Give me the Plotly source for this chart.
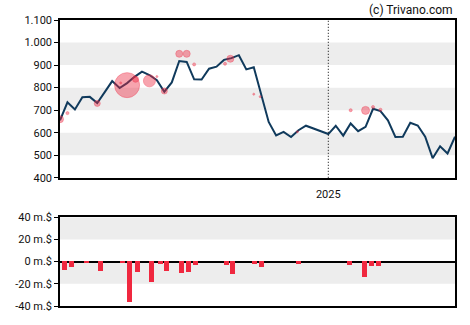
import pandas as pd
import plotly.graph_objects as go

# ---- data ----
start_date = "2024-04-24"
price = [655, 735, 703, 757, 759, 732, 780, 829, 798, 820, 848, 871, 856, 833, 782,
         823, 918, 914, 837, 836, 884, 893, 923, 931, 944, 881, 890, 765, 648, 588,
         604, 581, 611, 631, 619, 606, 594, 631, 587, 641, 607, 626, 706, 696, 655,
         581, 582, 644, 632, 582, 487, 540, 508, 582]
dates = pd.date_range(start_date, periods=len(price), freq="7D")

bubble_dates = ["2024-04-24", "2024-05-01", "2024-05-29", "2024-06-26", "2024-06-20",
                "2024-07-04", "2024-07-17", "2024-07-24", "2024-07-31", "2024-08-14",
                "2024-08-21", "2024-08-28", "2024-09-26", "2024-10-01", "2024-10-23",
                "2024-10-29", "2024-12-03", "2025-01-22", "2025-02-05", "2025-02-12",
                "2025-02-19"]
bubble_price = [660, 687, 730, 811, 821, 837, 830, 849, 785, 950, 950, 903, 906, 928,
                771, 760, 604, 700, 699, 714, 702]
bubble_size = [7, 3, 6, 25, 2, 6, 12, 2, 6, 7, 7, 3, 3, 7, 2, 2, 2, 3, 8, 3, 3]

flow_dates = ["2024-04-28", "2024-05-05", "2024-05-19", "2024-06-01", "2024-06-22",
              "2024-06-28", "2024-07-06", "2024-07-19", "2024-07-27", "2024-08-02",
              "2024-08-16", "2024-08-23", "2024-08-29", "2024-09-27", "2024-10-03",
              "2024-10-24", "2024-10-30", "2024-12-04", "2025-01-21", "2025-02-04",
              "2025-02-11", "2025-02-17"]
flow_values = [-8, -4.7, -1.5, -8.7, -1.5, -36.4, -9.5, -18.4, -2.4, -8.7, -10.4, -9.5,
               -3.3, -3.3, -11.3, -2.4, -5, -2.3, -3.3, -14.2, -4.4, -4.4]

price_ticks = [400, 500, 600, 700, 800, 900, 1000, 1100]
price_tick_text = ["400", "500", "600", "700", "800", "900", "1.000", "1.100"]
flow_ticks = [-40, -20, 0, 20, 40]
flow_tick_text = ["-40 m.$", "-20 m.$", "0 m.$", "20 m.$", "40 m.$"]
year_tick = "2025-01-01"

# ---- figure ----
fig = go.Figure()
fig.add_trace(go.Scatter(x=dates, y=price, mode="lines",
                         line=dict(color="#103a5c", width=2), xaxis="x", yaxis="y",
                         showlegend=False))
fig.add_trace(go.Scatter(x=pd.to_datetime(bubble_dates), y=bubble_price, mode="markers",
                         marker=dict(size=bubble_size, color="rgba(238,40,65,0.6)",
                                     line=dict(width=0.8, color="rgba(238,40,65,0.7)")),
                         xaxis="x", yaxis="y", showlegend=False))
fig.add_trace(go.Bar(x=pd.to_datetime(flow_dates), y=flow_values,
                     marker=dict(color="#f0283f", line=dict(width=0)),
                     width=4.7 * 86400000, xaxis="x2", yaxis="y2", showlegend=False))

xr = [dates[0], dates[-1]]
axis_font = dict(family="Roboto, Arial, sans-serif", size=11, color="#111")

fig.update_layout(
    width=470, height=325,
    margin=dict(l=60, r=15, t=20, b=15),
    paper_bgcolor="white", plot_bgcolor="white",
    font=axis_font,
    bargap=0,
    xaxis=dict(domain=[0, 1], range=xr, type="date", tickvals=[year_tick],
               ticktext=["2025"], ticks="", ticklabelstandoff=5, showgrid=False,
               zeroline=False, showline=True, mirror=True, linecolor="black",
               linewidth=1.5, tickfont=axis_font, anchor="y"),
    yaxis=dict(domain=[1 - 160 / 290, 1], range=[400, 1100], tickvals=price_ticks,
               ticktext=price_tick_text, ticks="outside", ticklen=4, tickcolor="black",
               showgrid=False, zeroline=False, showline=True, mirror=True,
               linecolor="black", linewidth=1.5, tickfont=axis_font, anchor="x"),
    xaxis2=dict(domain=[0, 1], range=xr, type="date", showticklabels=False, ticks="",
                showgrid=False, zeroline=False, showline=True, mirror=True,
                linecolor="black", linewidth=1.5, anchor="y2"),
    yaxis2=dict(domain=[0, 90 / 290], range=[-40, 40], tickvals=flow_ticks,
                ticktext=flow_tick_text, ticks="outside", ticklen=4, tickcolor="black",
                showgrid=False, zeroline=True, zerolinecolor="black", zerolinewidth=1.5,
                showline=True, mirror=True, linecolor="black", linewidth=1.5,
                tickfont=axis_font, anchor="x2"),
)

shapes = []
for lo in (500, 700, 900):
    shapes.append(dict(type="rect", xref="x domain", yref="y", x0=0, x1=1, y0=lo,
                       y1=lo + 100, fillcolor="#ededed", line=dict(width=0),
                       layer="below"))
for lo in (-20, 20):
    shapes.append(dict(type="rect", xref="x2 domain", yref="y2", x0=0, x1=1, y0=lo,
                       y1=lo + 20, fillcolor="#ededed", line=dict(width=0),
                       layer="below"))
shapes.append(dict(type="line", xref="x", yref="y domain", x0=year_tick, x1=year_tick,
                   y0=0, y1=1, line=dict(color="black", width=1, dash="1px,2px")))
fig.update_layout(shapes=shapes)

fig.add_annotation(text="(c) Trivano.com", xref="paper", yref="paper", x=1, y=1,
                   xanchor="right", yanchor="bottom", yshift=1, showarrow=False,
                   font=dict(family="Roboto, Arial, sans-serif", size=12, color="#111"))

fig.write_html("out.html")
